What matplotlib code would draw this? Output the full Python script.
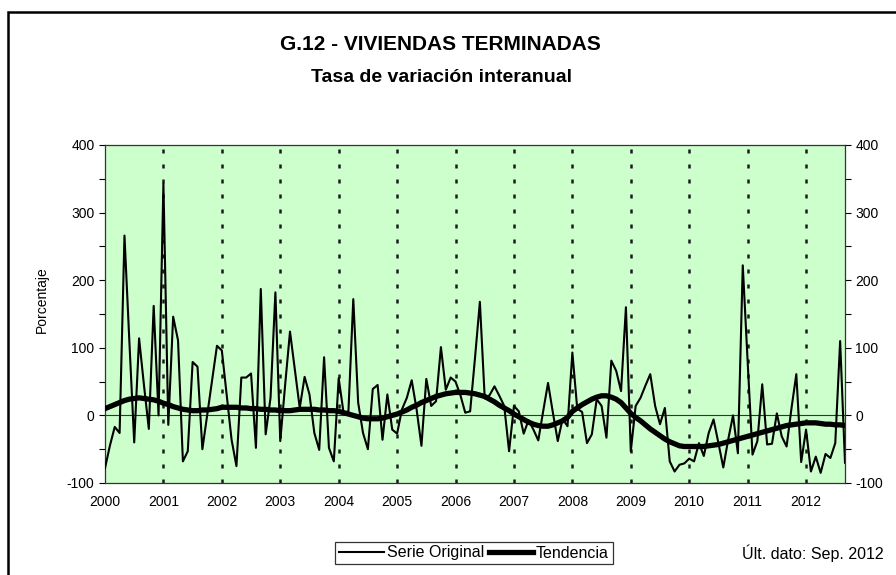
import numpy as np
import matplotlib
matplotlib.use('Agg')
import matplotlib.pyplot as plt
from matplotlib.patches import Rectangle
from matplotlib.ticker import MultipleLocator

plt.rcParams['font.family'] = ['Liberation Sans', 'DejaVu Sans']
plt.rcParams['axes.unicode_minus'] = False

# monthly data, Jan 2000 - Sep 2012
start_year = 2000
serie_original = [
    -78, -45, -17, -26, 266, 110, -40, 114, 45, -20, 162, 0,        # 2000
    343, -14, 146, 111, -68, -53, 79, 72, -50, 1, 52, 103,          # 2001
    96, 30, -36, -75, 56, 56, 62, -48, 187, -28, 26, 182,           # 2002
    -38, 45, 124, 68, 11, 57, 31, -26, -51, 86, -48, -68,           # 2003
    55, 4, 6, 172, 19, -26, -50, 39, 45, -36, 31, -21,              # 2004
    -27, 9, 26, 52, 9, -45, 54, 14, 21, 101, 38, 56,                # 2005
    50, 30, 4, 6, 85, 168, 25, 30, 43, 29, 14, -53,                 # 2006
    14, 6, -27, -7, -21, -37, 6, 48, 4, -38, -5, -16,               # 2007
    93, 10, 5, -41, -28, 24, 14, -33, 81, 66, 36, 160,              # 2008
    -53, 14, 26, 44, 61, 14, -13, 11, -68, -83, -73, -71,           # 2009
    -64, -68, -41, -60, -26, -6, -41, -77, -36, 0, -56, 222,        # 2010
    80, -58, -38, 46, -43, -42, 3, -31, -46, 10, 61, -69,           # 2011
    -21, -83, -61, -85, -57, -63, -41, 110, -70,                    # 2012
]
tendencia = [
    10, 13, 16, 19, 22, 24, 25, 26, 25, 24, 23, 21,
    18, 16, 13, 11, 9, 8, 7, 7, 8, 8, 9, 10,
    12, 12, 12, 12, 11, 11, 10, 10, 9, 9, 8, 8,
    7, 7, 7, 8, 9, 9, 9, 9, 8, 8, 7, 7,
    6, 4, 2, 0, -2, -4, -5, -5, -5, -4, -2, 0,
    2, 5, 8, 12, 15, 19, 22, 25, 28, 30, 32, 33,
    34, 34, 34, 33, 32, 30, 28, 24, 20, 15, 11, 7,
    2, -2, -6, -10, -13, -15, -16, -16, -14, -11, -8, -3,
    6, 11, 16, 20, 24, 27, 29, 29, 27, 24, 19, 11,
    3, -3, -8, -14, -20, -25, -30, -35, -39, -42, -45, -46,
    -46, -46, -46, -46, -45, -44, -43, -41, -39, -37, -35, -33,
    -31, -29, -27, -25, -23, -21, -19, -17, -15, -14, -13, -12,
    -11, -11, -11, -12, -13, -13, -14, -14, -15,
]
years = list(range(2000, 2013))
y_ticks = [-100, 0, 100, 200, 300, 400]

t = start_year + np.arange(len(serie_original)) / 12.0

fig = plt.figure(figsize=(8.96, 5.75), dpi=100)
fig.patches.append(Rectangle((8 / 896, -0.1), 1.2, 1.1 - 12 / 575,
                             transform=fig.transFigure, fill=False,
                             edgecolor='black', linewidth=1.8))

ax = fig.add_axes([105 / 896, 1 - 483 / 575, 740 / 896, 338 / 575])
ax.set_facecolor('#CCFFCC')

for yr in years[1:]:
    ax.axvline(yr, color='#1a1a1a', lw=1.8, ls=(0, (1.6, 4.4)), zorder=1)
ax.axhline(0, color='#333333', lw=0.8, zorder=2)

l1, = ax.plot(t, serie_original, color='black', lw=1.5, zorder=3, label='Serie Original')
l2, = ax.plot(t, tendencia, color='black', lw=3.8, zorder=4, label='Tendencia')

ax.set_xlim(t[0], t[-1])
ax.set_ylim(-100, 400)
ax.set_xticks(years)
ax.set_xticklabels([str(y) for y in years])
ax.tick_params(axis='x', length=0, pad=9, labelsize=10)
ax.set_yticks(y_ticks)
ax.yaxis.set_minor_locator(MultipleLocator(50))
ax.tick_params(axis='y', which='both', direction='out', length=4, width=0.8,
               labelsize=10, left=True, right=True, labelleft=True, labelright=True)
for s in ax.spines.values():
    s.set_linewidth(0.9)
    s.set_color('#333333')

fig.text(42 / 896, 1 - 300 / 575, 'Porcentaje', rotation=90, ha='center', va='center',
         fontsize=10)

fig.text(440 / 896, 1 - 45 / 575, 'G.12 - VIVIENDAS TERMINADAS', ha='center', va='center',
         fontsize=15, fontweight='bold')
fig.text(441 / 896, 1 - 77 / 575, 'Tasa de variación interanual', ha='center', va='center',
         fontsize=14, fontweight='bold')

leg = fig.legend(handles=[l1, l2], loc='center', bbox_to_anchor=(474 / 896, 1 - 553 / 575),
                 ncol=2, frameon=True, fancybox=False, edgecolor='black', fontsize=11.5,
                 handlelength=2.8, handletextpad=0.15, columnspacing=0.3, borderpad=0.25)
leg.get_frame().set_linewidth(0.9)

fig.text(884 / 896, 1 - 553 / 575, 'Últ. dato: Sep. 2012', ha='right', va='center', fontsize=11.5)

fig.savefig('out.png', dpi=100)
